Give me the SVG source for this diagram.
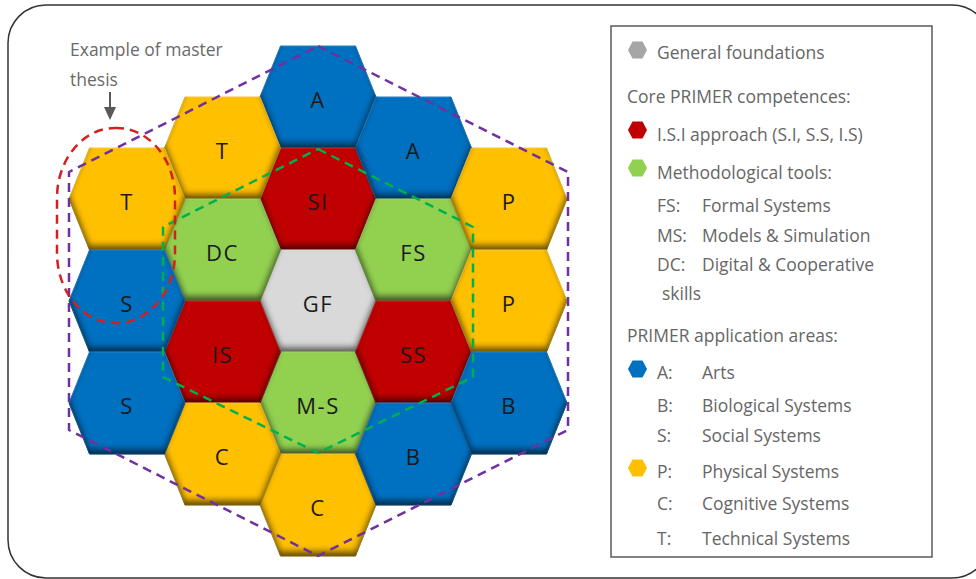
<svg xmlns="http://www.w3.org/2000/svg" xmlns:xlink="http://www.w3.org/1999/xlink" width="976" height="579" viewBox="0 0 976 579">
<defs>
<style>
.lbl{font-family:"Open Sans","Liberation Sans",sans-serif;font-size:22px;fill:#1a1a1a;text-anchor:middle;letter-spacing:1.5px}
.lg{font-family:"Open Sans","Liberation Sans",sans-serif;font-size:17.5px;fill:#666666}
.ann{font-family:"Open Sans","Liberation Sans",sans-serif;font-size:17.5px;fill:#6a6a6a}
.blue{fill:#0070C0;stroke:#2a86cc;stroke-width:1}
.yel{fill:#FFC000;stroke:#ffcf40;stroke-width:1}
.red{fill:#C00000;stroke:#cc3030;stroke-width:1}
.grn{fill:#92D050;stroke:#a6dc6c;stroke-width:1}
.gry{fill:#D9D9D9;stroke:#e4e4e4;stroke-width:1}
.dash{fill:none;stroke-width:2.5;stroke-dasharray:9 6;stroke-linejoin:round}
</style>
<polygon id="hx" points="-58,0 -37.5,-51 37.5,-51 58,0 37.5,51 -37.5,51"/>
<polygon id="ic" points="-9.5,0 -5,-8.5 5,-8.5 9.5,0 5,8.5 -5,8.5"/>
<filter id="sh" x="-25%" y="-25%" width="150%" height="150%" color-interpolation-filters="sRGB">
<feComponentTransfer in="SourceAlpha" result="inv"><feFuncA type="table" tableValues="1 0"/></feComponentTransfer>
<feOffset in="inv" dx="0" dy="-5" result="o"/>
<feGaussianBlur in="o" stdDeviation="3" result="b"/>
<feComposite in="b" in2="SourceAlpha" operator="in" result="c"/>
<feColorMatrix in="c" type="matrix" values="0 0 0 0 0  0 0 0 0 0  0 0 0 0 0  0 0 0 0.6 0" result="d"/>
<feMerge><feMergeNode in="SourceGraphic"/><feMergeNode in="d"/></feMerge>
</filter>
</defs>
<rect width="976" height="579" fill="#ffffff"/>
<rect id="frame" x="8" y="5" width="982" height="573" rx="38" ry="38" fill="none" stroke="#333333" stroke-width="1.5"/>

<g id="hexes">
<g id="hex-A1"><use xlink:href="#hx" class="blue" filter="url(#sh)" transform="translate(318,97)"/><text class="lbl" x="318" y="108">A</text></g>
<g id="hex-SI"><use xlink:href="#hx" class="red" filter="url(#sh)" transform="translate(318,199)"/><text class="lbl" x="318" y="210">SI</text></g>
<g id="hex-GF"><use xlink:href="#hx" class="gry" filter="url(#sh)" transform="translate(318,301)"/><text class="lbl" x="318" y="312">GF</text></g>
<g id="hex-MS"><use xlink:href="#hx" class="grn" filter="url(#sh)" transform="translate(318,403)"/><text class="lbl" x="318" y="414">M-S</text></g>
<g id="hex-C1"><use xlink:href="#hx" class="yel" filter="url(#sh)" transform="translate(318,505)"/><text class="lbl" x="318" y="516">C</text></g>

<g id="hex-T1"><use xlink:href="#hx" class="yel" filter="url(#sh)" transform="translate(222.5,148)"/><text class="lbl" x="222.5" y="159">T</text></g>
<g id="hex-DC"><use xlink:href="#hx" class="grn" filter="url(#sh)" transform="translate(222.5,250)"/><text class="lbl" x="222.5" y="261">DC</text></g>
<g id="hex-IS"><use xlink:href="#hx" class="red" filter="url(#sh)" transform="translate(222.5,352)"/><text class="lbl" x="222.5" y="363">IS</text></g>
<g id="hex-C2"><use xlink:href="#hx" class="yel" filter="url(#sh)" transform="translate(222.5,454)"/><text class="lbl" x="222.5" y="465">C</text></g>

<g id="hex-A2"><use xlink:href="#hx" class="blue" filter="url(#sh)" transform="translate(413.5,148)"/><text class="lbl" x="413.5" y="159">A</text></g>
<g id="hex-FS"><use xlink:href="#hx" class="grn" filter="url(#sh)" transform="translate(413.5,250)"/><text class="lbl" x="413.5" y="261">FS</text></g>
<g id="hex-SS"><use xlink:href="#hx" class="red" filter="url(#sh)" transform="translate(413.5,352)"/><text class="lbl" x="413.5" y="363">SS</text></g>
<g id="hex-B1"><use xlink:href="#hx" class="blue" filter="url(#sh)" transform="translate(413.5,454)"/><text class="lbl" x="413.5" y="465">B</text></g>

<g id="hex-T2"><use xlink:href="#hx" class="yel" filter="url(#sh)" transform="translate(127,199)"/><text class="lbl" x="127" y="210">T</text></g>
<g id="hex-S1"><use xlink:href="#hx" class="blue" filter="url(#sh)" transform="translate(127,301)"/><text class="lbl" x="127" y="312">S</text></g>
<g id="hex-S2"><use xlink:href="#hx" class="blue" filter="url(#sh)" transform="translate(127,403)"/><text class="lbl" x="127" y="414">S</text></g>

<g id="hex-P1"><use xlink:href="#hx" class="yel" filter="url(#sh)" transform="translate(509,199)"/><text class="lbl" x="509" y="210">P</text></g>
<g id="hex-P2"><use xlink:href="#hx" class="yel" filter="url(#sh)" transform="translate(509,301)"/><text class="lbl" x="509" y="312">P</text></g>
<g id="hex-B2"><use xlink:href="#hx" class="blue" filter="url(#sh)" transform="translate(509,403)"/><text class="lbl" x="509" y="414">B</text></g>
</g>

<g id="outlines">
<polygon class="dash" stroke="#7030A0" points="318,46 568,172 568,430 318,556 69,430 69,172"/>
<polygon class="dash" stroke="#00B050" points="318,149 473,227 473,377 318,453 163,377 163,227"/>
<rect class="dash" stroke="#D42020" x="57" y="128" width="118" height="195" rx="58" ry="70"/>
</g>

<g id="annotation">
<text class="ann" x="70" y="56">Example of master</text>
<text class="ann" x="70" y="86">thesis</text>
</g>

<g id="connectors">
<line x1="110" y1="92" x2="110" y2="109" stroke="#595959" stroke-width="2"/>
<polygon points="104,107 116,107 110,120" fill="#595959"/>
</g>

<g id="legend">
<rect x="611" y="26" width="321" height="531" fill="#ffffff" stroke="#595959" stroke-width="1.5"/>
<use xlink:href="#ic" fill="#A6A6A6" transform="translate(637.5,50)"/>
<text class="lg" x="657" y="59">General foundations</text>
<text class="lg" x="627" y="103">Core PRIMER competences:</text>
<use xlink:href="#ic" fill="#C00000" transform="translate(637.5,130)"/>
<text class="lg" x="657" y="141">I.S.I approach (S.I, S.S, I.S)</text>
<use xlink:href="#ic" fill="#92D050" transform="translate(637.5,168)"/>
<text class="lg" x="657" y="179">Methodological tools:</text>
<text class="lg" x="657" y="212">FS:</text><text class="lg" x="702" y="212">Formal Systems</text>
<text class="lg" x="657" y="242">MS:</text><text class="lg" x="702" y="242">Models &amp; Simulation</text>
<text class="lg" x="657" y="271">DC:</text><text class="lg" x="702" y="271">Digital &amp; Cooperative</text>
<text class="lg" x="662" y="300">skills</text>
<text class="lg" x="627" y="342">PRIMER application areas:</text>
<use xlink:href="#ic" fill="#0070C0" transform="translate(637.5,369)"/>
<text class="lg" x="657" y="379">A:</text><text class="lg" x="702" y="379">Arts</text>
<text class="lg" x="657" y="412">B:</text><text class="lg" x="702" y="412">Biological Systems</text>
<text class="lg" x="657" y="442">S:</text><text class="lg" x="702" y="442">Social Systems</text>
<use xlink:href="#ic" fill="#FFC000" transform="translate(637.5,468)"/>
<text class="lg" x="657" y="478">P:</text><text class="lg" x="702" y="478">Physical Systems</text>
<text class="lg" x="657" y="510">C:</text><text class="lg" x="702" y="510">Cognitive Systems</text>
<text class="lg" x="657" y="545">T:</text><text class="lg" x="702" y="545">Technical Systems</text>
</g>
</svg>
